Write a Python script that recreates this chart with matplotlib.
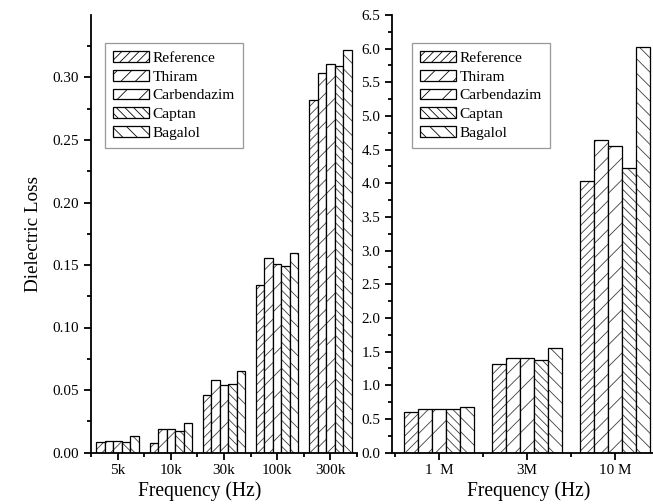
import numpy as np
import matplotlib
matplotlib.use('Agg')
import matplotlib.pyplot as plt
from matplotlib.patches import Patch
from matplotlib.ticker import MultipleLocator, FixedLocator

#data
samples = ['Reference', 'Thiram', 'Carbendazim', 'Captan', 'Bagalol']
hatches = ['/////', '///', '//', '\\\\\\\\\\', '\\\\\\']

freq_lo = ['5k', '10k', '30k', '100k', '300k']
reference_lo = [0.0085, 0.008, 0.046, 0.134, 0.282]
thiram_lo = [0.0095, 0.019, 0.058, 0.156, 0.304]
carbendazim_lo = [0.0095, 0.019, 0.054, 0.151, 0.311]
captan_lo = [0.0085, 0.017, 0.055, 0.149, 0.309]
bagalol_lo = [0.013, 0.024, 0.065, 0.160, 0.322]

freq_hi = ['1  M', '3M', '10 M']
reference_hi = [0.60, 1.31, 4.03]
thiram_hi = [0.64, 1.41, 4.64]
carbendazim_hi = [0.65, 1.41, 4.55]
captan_hi = [0.65, 1.38, 4.22]
bagalol_hi = [0.68, 1.56, 6.02]

plt.rcParams['font.family'] = ['Liberation Serif', 'DejaVu Serif']
plt.rcParams['hatch.linewidth'] = 0.45
plt.rcParams['axes.linewidth'] = 1.0

fig = plt.figure(figsize=(653/130, 504/130), dpi=130)
ax1 = fig.add_axes([91/653, 1-452.5/504, 266/653, 437.5/504])
ax2 = fig.add_axes([392/653, 1-452.5/504, 261/653, 437.5/504])

w = 0.16

def draw_group(ax, cats, series):
    x = np.arange(len(cats))
    for i, vals in enumerate(series):
        pos = x - 0.4 + w/2 + i*w
        ax.bar(pos, vals, w, color='white', edgecolor='#3a3a3a', hatch=hatches[i], linewidth=0)
        ax.bar(pos, vals, w, fill=False, edgecolor='black', linewidth=0.7)
    ax.xaxis.set_major_locator(FixedLocator(x))
    ax.xaxis.set_minor_locator(FixedLocator(np.arange(len(cats) + 1) - 0.5))
    ax.set_xticklabels(cats)
    for s in ['top', 'right']:
        ax.spines[s].set_visible(False)
    ax.tick_params(which='major', direction='out', length=4, width=1.0, labelsize=8.4, pad=2.5)
    ax.tick_params(which='minor', direction='out', length=2.3, width=1.0)

#left panel: low frequencies
draw_group(ax1, freq_lo, [reference_lo, thiram_lo, carbendazim_lo, captan_lo, bagalol_lo])
ax1.set_xlim(-0.5, 4.5)
ax1.set_ylim(0, 0.35)
ax1.set_yticks(np.arange(0, 0.31, 0.05))
ax1.yaxis.set_minor_locator(FixedLocator(np.arange(0.025, 0.35, 0.05)))
ax1.set_yticklabels(['%.2f' % v for v in np.arange(0, 0.31, 0.05)])
ax1.set_ylabel('Dielectric Loss', fontsize=10.6, labelpad=6)
ax1.set_xlabel('Frequency (Hz)', fontsize=10.8, labelpad=0)
ax1.xaxis.set_label_coords(0.41, -0.066)

#right panel: high frequencies
draw_group(ax2, freq_hi, [reference_hi, thiram_hi, carbendazim_hi, captan_hi, bagalol_hi])
ax2.set_xlim(-0.534, 2.43)
ax2.set_ylim(0, 6.5)
ax2.yaxis.set_major_locator(MultipleLocator(0.5))
ax2.yaxis.set_minor_locator(MultipleLocator(0.25))
ax2.set_xlabel('Frequency (Hz)', fontsize=10.8, labelpad=0)
ax2.xaxis.set_label_coords(0.525, -0.066)

#legends with custom hatched boxes
handles = [Patch(facecolor='white', edgecolor='black', hatch=h, linewidth=0.7) for h in hatches]
for ax, xl in [(ax1, 105), (ax2, 412)]:
    leg = ax.legend(handles, samples, loc='upper left', bbox_to_anchor=(xl/653, 1-43/504),
                    bbox_transform=fig.transFigure, borderaxespad=0, fontsize=8.5,
                    handlelength=2.3, handleheight=0.7, handletextpad=0.25,
                    labelspacing=0.32, borderpad=0.55, fancybox=False, framealpha=1)
    leg.get_frame().set_edgecolor('#999999')
    leg.get_frame().set_linewidth(0.7)

plt.savefig('out.png', dpi=130)
